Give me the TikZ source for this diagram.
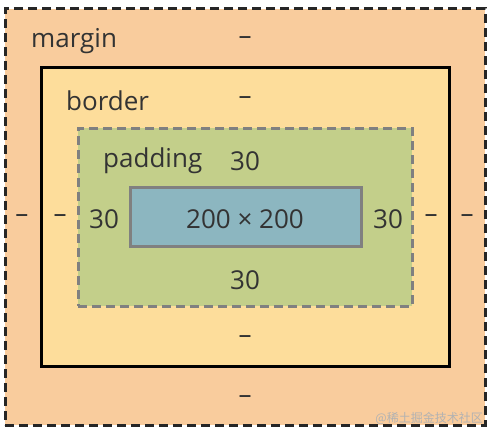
\documentclass[tikz,border=0pt]{standalone}
\usepackage{fontspec}
\setmainfont{Open Sans}
\newfontfamily\cjkfont{Noto Sans CJK SC}
\definecolor{marginc}{HTML}{F9CC9D}
\definecolor{borderc}{HTML}{FDDD9B}
\definecolor{paddingc}{HTML}{C3CF8A}
\definecolor{contentc}{HTML}{8CB6C0}
\definecolor{txt}{HTML}{333333}
\begin{document}
\begin{tikzpicture}[x=1pt,y=-1pt,
  boxbase/.style={rectangle,inner sep=0pt,outer sep=0pt},
  marginbox/.style={boxbase,fill=marginc,draw=black!85,line width=3pt,dash pattern=on 9pt off 5pt},
  borderbox/.style={boxbase,fill=borderc,draw=black,line width=3pt},
  paddingbox/.style={boxbase,fill=paddingc,draw=black!50,line width=3pt,dash pattern=on 9pt off 5pt},
  contentbox/.style={boxbase,fill=contentc,draw=black!50,line width=3pt},
  lbl/.style={text=txt,font=\fontsize{26}{30}\selectfont,inner sep=0pt,anchor=center}
]
\useasboundingbox (0,0) rectangle (495,436);
\fill[white] (0,0) rectangle (495,436);
\node[marginbox,minimum width=480pt,minimum height=416pt] (margin) at (245,217) {};
\node[borderbox,minimum width=408pt,minimum height=298pt] (border) at (245,217) {};
\node[paddingbox,minimum width=334pt,minimum height=178pt] (padding) at (245,217) {};
\node[contentbox,minimum width=231pt,minimum height=59pt] (content) at (245.5,216.5) {};
% labels
\node[lbl,anchor=west] (lmargin) at (31,41) {margin};
\node[lbl] (mt) at (245,41) {–};
\node[lbl,anchor=west] (lborder) at (66,101) {border};
\node[lbl] (bt) at (245,101) {–};
\node[lbl,anchor=west] (lpadding) at (103,161) {padding};
\node[lbl] (pt) at (245,161) {30};
\node[lbl] (pl) at (104,219) {30};
\node[lbl] (pr) at (388,219) {30};
\node[lbl] (csize) at (245,219) {200 × 200};
\node[lbl] (ml) at (22,219) {–};
\node[lbl] (bl) at (60,219) {–};
\node[lbl] (br) at (431,219) {–};
\node[lbl] (mr) at (467,219) {–};
\node[lbl] (pb) at (245,280) {30};
\node[lbl] (bb) at (245,340) {–};
\node[lbl] (mb) at (245,400) {–};
\node[text=black!30,font=\cjkfont\fontsize{12}{14}\selectfont,inner sep=0pt,anchor=east] (wm) at (483,418) {@稀土掘金技术社区};
\end{tikzpicture}
\end{document}
